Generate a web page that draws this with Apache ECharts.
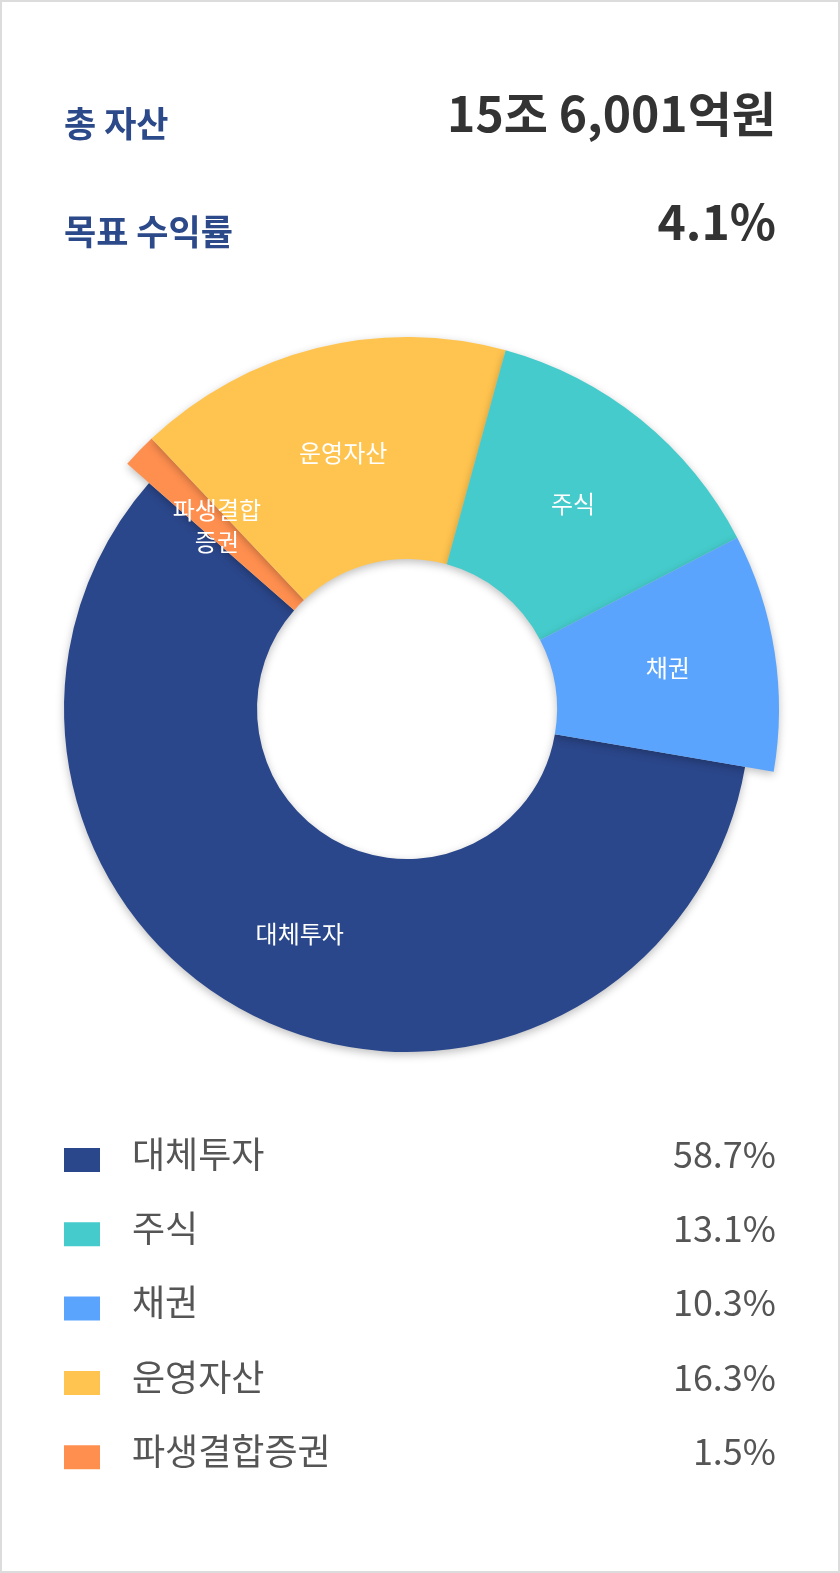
<!DOCTYPE html>
<html><head><meta charset="utf-8">
<script src="https://cdn.jsdelivr.net/npm/echarts@6/dist/echarts.min.js"></script>
<style>
html,body{margin:0;padding:0;background:#fff;}
#wrap{position:absolute;left:0;top:0;width:836px;height:1569px;border:2px solid #dcdcdc;}
#c{width:836px;height:1569px;}
</style></head><body>
<div id="wrap"><div id="c"></div></div>
<script>
const legendNames = ['대체투자','주식','채권','운영자산','파생결합증권'];
const legendValues = ['58.7%','13.1%','10.3%','16.3%','1.5%'];
const pieNames = ['대체투자','파생결합증권','운영자산','주식','채권'];
const pieLabels = ['대체투자','파생결합\n증권','운영자산','주식','채권'];
const pieValues = [58.7, 1.5, 16.3, 13.1, 10.3];
const colors = {'대체투자':'#2b478b','주식':'#45cbcb','채권':'#5ba4fd','운영자산':'#ffc44f','파생결합증권':'#ff8f4f'};
const headLabels = ['총 자산','목표 수익률'];
const headValues = ['15조 6,001억원','4.1%'];
const F = '"Noto Sans CJK KR","Noto Sans",sans-serif';

const chart = echarts.init(document.getElementById('c'));
function mk(isMain){
  return pieNames.map((n,i)=>{
    const show = isMain ? n==='대체투자' : n!=='대체투자';
    return {name:n, value:pieValues[i],
      itemStyle:{color: show?colors[n]:'transparent', shadowColor: show?'rgba(0,0,0,0.25)':'transparent', shadowBlur: show?8:0, shadowOffsetY:3},
      label:{show:show, formatter:pieLabels[i]}};
  });
}
const common = {type:'pie', center:[405,707], startAngle:-9.7, clockwise:true, silent:true,
  label:{position:'inside', color:'#fff', fontSize:24, fontFamily:F, lineHeight:32},
  labelLine:{show:false}};
const graphic = [];
headLabels.forEach((t,i)=>{
  graphic.push({type:'text', left:62, top:104+i*108, style:{text:t, fill:'#2c4a8a', font:'bold 35px '+F}});
  graphic.push({type:'text', right:62, top:88+i*108, style:{text:headValues[i], fill:'#333', font:'bold 48px '+F}});
});
legendNames.forEach((n,i)=>{
  const y = 1158 + i*74.3;
  graphic.push({type:'rect', shape:{x:62,y:y-12,width:36,height:24}, style:{fill:colors[n]}});
  graphic.push({type:'text', left:130, top:y-24, style:{text:n, fill:'#555', font:'36px '+F}});
  graphic.push({type:'text', right:62, top:y-24, style:{text:legendValues[i], fill:'#555', font:'36px '+F}});
});
chart.setOption({
  animation:false,
  series:[
    Object.assign({}, common, {radius:[150,343], data:mk(true)}),
    Object.assign({}, common, {radius:[150,372], data:mk(false)})
  ],
  graphic: graphic
});
</script>
</body></html>
